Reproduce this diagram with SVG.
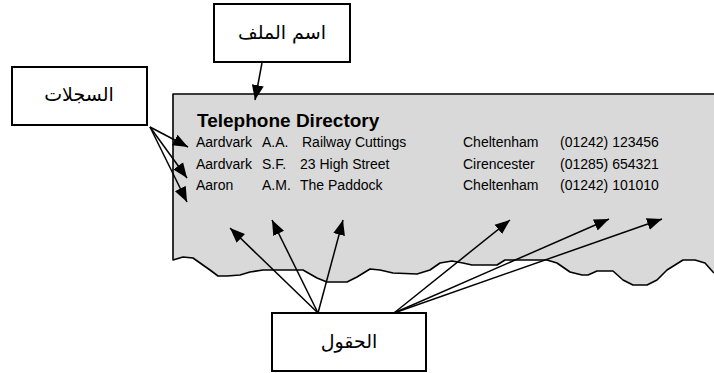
<svg xmlns="http://www.w3.org/2000/svg" width="714" height="373" viewBox="0 0 714 373">
<defs>
<marker id="ah" markerUnits="userSpaceOnUse" markerWidth="16" markerHeight="14" viewBox="0 0 16 14" refX="15" refY="7" orient="auto">
<path d="M0,1 L15,7 L0,13 Z" fill="#000"/>
</marker>
<style>
.box{fill:#fff;stroke:#000;stroke-width:2}
.ar{font-family:"DejaVu Sans","Noto Sans",sans-serif;font-size:19px;fill:#000;text-anchor:middle}
.t{font-family:"Liberation Sans",Arial,sans-serif;font-size:14px;fill:#000}
.h{font-family:"Liberation Sans",Arial,sans-serif;font-size:19px;font-weight:bold;fill:#000}
.c{stroke:#000;stroke-width:1.5;fill:none;marker-end:url(#ah)}
</style>
</defs>
<rect width="714" height="373" fill="#fff"/>
<g id="panel">
<path d="M173,94 L714,94 L714,273 L713,272 705,263 695,260 683,260 667,270 657,280 647,285 633,285 623,280 613,271 597,271 588,275 582,275 570,272 557,263 547,260 505,260 497,265 472,265 463,263 452,261 440,263 430,270 417,274 393,273 380,270 370,269 357,277 347,282 327,282 317,278 303,270 263,270 250,272 240,275 227,276 218,276 210,270 193,258 183,257 173,260 Z" fill="#d9d9d9"/>
<path d="M714,94 L173,94 L173,260 L183,257 193,258 210,270 218,276 227,276 240,275 250,272 263,270 303,270 317,278 327,282 347,282 357,277 370,269 380,270 393,273 417,274 430,270 440,263 452,261 463,263 472,265 497,265 505,260 547,260 557,263 570,272 582,275 588,275 597,271 613,271 623,280 633,285 647,285 657,280 667,270 683,260 695,260 705,263 713,272 714,273" fill="none" stroke="#000" stroke-width="1.6" stroke-linejoin="round"/>
<text class="h" x="197" y="127">Telephone Directory</text>
<g class="t">
<text x="196" y="147">Aardvark</text><text x="262" y="147">A.A.</text><text x="302" y="147">Railway Cuttings</text><text x="463" y="147">Cheltenham</text><text x="560" y="147">(01242) 123456</text>
<text x="196" y="168.5">Aardvark</text><text x="262" y="168.5">S.F.</text><text x="300" y="168.5">23 High Street</text><text x="463" y="168.5">Cirencester</text><text x="560" y="168.5">(01285) 654321</text>
<text x="196" y="190">Aaron</text><text x="262" y="190">A.M.</text><text x="300" y="190">The Paddock</text><text x="463" y="190">Cheltenham</text><text x="560" y="190">(01242) 101010</text>
</g>
</g>
<g id="connectors">
<line class="c" x1="262" y1="63" x2="255" y2="100"/>
<line class="c" x1="150" y1="127" x2="188" y2="147"/>
<line class="c" x1="150" y1="127" x2="187" y2="178"/>
<line class="c" x1="150" y1="127" x2="187" y2="202"/>
<line class="c" x1="318" y1="313" x2="230" y2="228"/>
<line class="c" x1="318" y1="313" x2="272" y2="220"/>
<line class="c" x1="318" y1="313" x2="343" y2="220"/>
<line class="c" x1="394" y1="313" x2="510" y2="220"/>
<line class="c" x1="394" y1="313" x2="609" y2="219"/>
<line class="c" x1="394" y1="313" x2="662" y2="219"/>
</g>
<g id="file-name">
<rect class="box" x="214" y="4" width="136" height="58"/>
<text class="ar" x="282" y="39" direction="rtl">اسم الملف</text>
</g>
<g id="records">
<rect class="box" x="12" y="67" width="135" height="58"/>
<text class="ar" x="79" y="101" direction="rtl">السجلات</text>
</g>
<g id="fields">
<rect class="box" x="272" y="313" width="154" height="58"/>
<text class="ar" x="349" y="348" direction="rtl">الحقول</text>
</g>
</svg>
